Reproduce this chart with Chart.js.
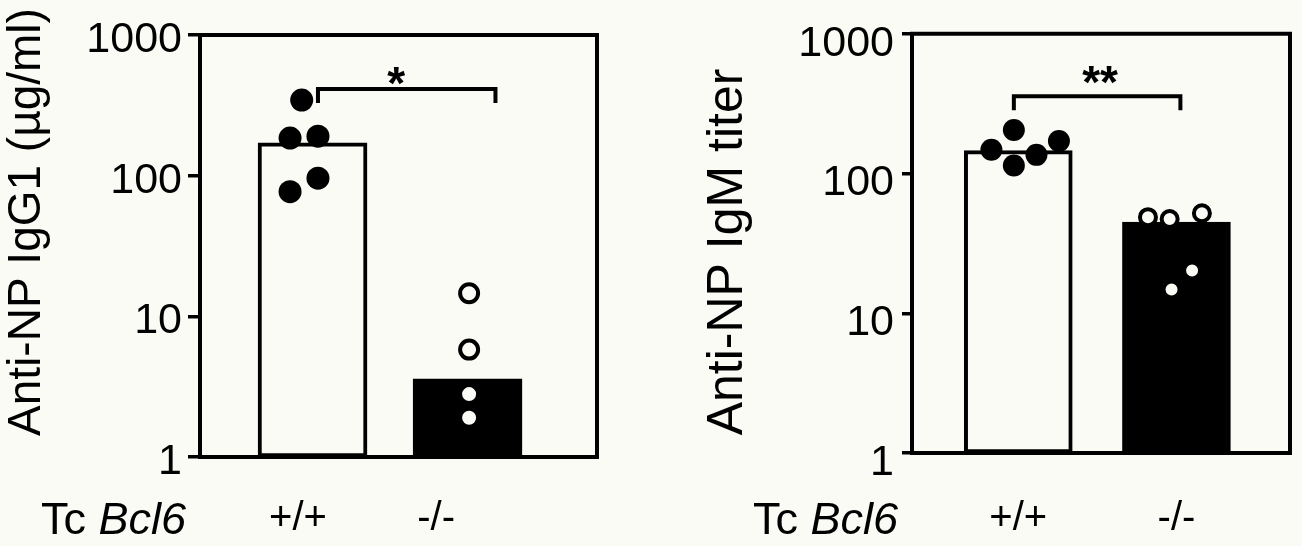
<!DOCTYPE html>
<html>
<head>
<meta charset="utf-8">
<script src="https://cdn.jsdelivr.net/npm/chart.js@4.4.1/dist/chart.umd.min.js"></script>
<style>
  html, body { margin: 0; padding: 0; background: #fbfbf6; }
  .panel { position: absolute; top: 0; width: 651px; height: 546px; }
</style>
</head>
<body>
<div class="panel" style="left:0"><canvas id="igg1" width="651" height="546"></canvas></div>
<div class="panel" style="left:651px"><canvas id="igm" width="651" height="546"></canvas></div>
<script>
// shared
const groups = ['+/+', '-/-']
const yTicks = [1, 10, 100, 1000]

// Anti-NP IgG1 (ug/ml)
const igg1Means = [171, 3.6]
const igg1Wt = [345, 185, 191, 96, 77]
const igg1WtJitter = [-0.07, -0.145, 0.035, 0.035, -0.145]
const igg1Ko = [14.6, 5.8, 2.8, 1.9]
const igg1KoJitter = [0.01, 0.01, 0.01, 0.01]
const igg1BracketX = [0.035, 1.18]
const igg1BracketY = [328, 413]

// Anti-NP IgM titer
const igmMeans = [146, 45]
const igmWt = [205, 148, 136, 171, 114]
const igmWtJitter = [-0.028, -0.17, 0.115, 0.257, -0.028]
const igmKo = [48.7, 47.2, 52, 20.2, 14.8]
const igmKoJitter = [-0.18, -0.043, 0.161, 0.099, -0.031]
const igmBracketX = [-0.028, 1.025]
const igmBracketY = [284, 357]

const BG = '#fbfbf6'
const FONT = '"Liberation Sans", Arial, sans-serif'

const decor = {
  id: 'decor',
  afterDraw (chart, args, o) {
    const { ctx, chartArea: a, scales: { x, y } } = chart
    ctx.save()
    ctx.strokeStyle = '#000'
    ctx.lineWidth = 4
    ctx.beginPath()
    ctx.moveTo(a.left - 2, a.top)
    ctx.lineTo(a.right, a.top)
    ctx.lineTo(a.right, a.bottom + 2)
    ctx.stroke()

    ctx.fillStyle = '#000'
    // significance stars
    ctx.font = 'bold 46px ' + FONT
    ctx.textAlign = 'center'
    ctx.textBaseline = 'alphabetic'
    ctx.fillText(o.stars, x.getPixelForValue(o.starX), y.getPixelForValue(o.starY) + 0.58 * 46)

    // y title
    ctx.save()
    ctx.translate(o.titleX, o.titleY)
    ctx.rotate(-Math.PI / 2)
    ctx.font = o.titleSize + 'px ' + FONT
    ctx.textBaseline = 'middle'
    ctx.fillText(o.title, 0, 0)
    ctx.restore()

    // Tc Bcl6
    ctx.textAlign = 'left'
    ctx.font = '45px ' + FONT
    const w1 = ctx.measureText('Tc ').width
    ctx.font = 'italic 45px ' + FONT
    const w2 = ctx.measureText('Bcl6').width
    const x0 = a.left - 14 - w1 - w2
    ctx.font = '45px ' + FONT
    ctx.fillText('Tc ', x0, 534)
    ctx.font = 'italic 45px ' + FONT
    ctx.fillText('Bcl6', x0 + w1, 534)
    ctx.restore()
  }
}

function makePanel (id, p) {
  const ctx = document.getElementById(id).getContext('2d')
  return new Chart(ctx, {
    type: 'bar',
    data: {
      datasets: [
        {
          type: 'scatter',
          order: 0,
          data: p.wt.map((v, i) => ({ x: p.wtJitter[i], y: v })),
          pointRadius: p.dotR,
          backgroundColor: '#000',
          borderWidth: 0
        },
        {
          type: 'scatter',
          order: 0,
          data: p.ko.map((v, i) => ({ x: 1 + p.koJitter[i], y: v })),
          pointRadius: p.openR,
          backgroundColor: BG,
          borderColor: '#000',
          borderWidth: 4
        },
        {
          type: 'line',
          order: 1,
          data: [
            { x: p.bracketX[0], y: p.bracketY[0] },
            { x: p.bracketX[0], y: p.bracketY[1] },
            { x: p.bracketX[1], y: p.bracketY[1] },
            { x: p.bracketX[1], y: p.bracketY[0] }
          ],
          borderColor: '#000',
          borderWidth: 4,
          pointRadius: 0,
          tension: 0,
          fill: false
        },
        {
          type: 'bar',
          order: 2,
          data: p.means.map((v, i) => ({ x: i, y: v })),
          backgroundColor: [BG, '#000'],
          borderColor: '#000',
          borderWidth: 4,
          borderSkipped: false,
          barThickness: p.barW
        }
      ]
    },
    options: {
      responsive: false,
      animation: false,
      events: [],
      layout: { padding: { left: 0, top: p.top, right: p.right, bottom: 0 } },
      plugins: {
        legend: { display: false },
        tooltip: { enabled: false },
        decor: p.decor
      },
      scales: {
        x: {
          type: 'linear',
          min: p.xMin,
          max: p.xMax,
          offset: false,
          grid: { display: false, drawTicks: false, offset: false },
          border: { display: true, width: 4, color: '#000' },
          afterBuildTicks: s => { s.ticks = p.xTickPos.map(v => ({ value: v })) },
          afterFit: s => { s.height = p.xAxisH },
          ticks: {
            autoSkip: false,
            maxRotation: 0,
            padding: p.xPad,
            color: '#000',
            font: { family: FONT, size: 40 },
            callback: (v, i) => groups[i]
          }
        },
        y: {
          type: 'logarithmic',
          min: 1,
          max: 1000,
          grid: { display: true, drawOnChartArea: false, drawTicks: true, tickLength: p.tickLen, lineWidth: 3.5, color: '#000' },
          border: { display: true, width: 4, color: '#000' },
          afterBuildTicks: s => { s.ticks = yTicks.map(v => ({ value: v })) },
          afterFit: s => { s.width = p.yAxisW },
          ticks: {
            padding: p.yPad,
            labelOffset: p.labelOffset,
            color: '#000',
            font: { family: FONT, size: 43 },
            callback: v => String(v)
          }
        }
      }
    },
    plugins: [decor]
  })
}

makePanel('igg1', {
  means: igg1Means, wt: igg1Wt, wtJitter: igg1WtJitter, ko: igg1Ko, koJitter: igg1KoJitter,
  bracketX: igg1BracketX, bracketY: igg1BracketY,
  dotR: 11.5, openR: 9, barW: 109,
  xMin: -0.726, xMax: 1.835, xTickPos: [-0.094, 0.797],
  top: 35, right: 54, xAxisH: 89, yAxisW: 200, xPad: 38, yPad: 6, tickLen: 12, labelOffset: 5,
  decor: { stars: '*', starX: 0.54, starY: 546, title: 'Anti-NP IgG1 (µg/ml)', titleSize: 46, titleX: 27, titleY: 222 }
})

makePanel('igm', {
  means: igmMeans, wt: igmWt, wtJitter: igmWtJitter, ko: igmKo, koJitter: igmKoJitter,
  bracketX: igmBracketX, bracketY: igmBracketY,
  dotR: 11, openR: 8, barW: 108,
  xMin: -0.672, xMax: 1.718, xTickPos: [0, 1],
  top: 30, right: 4, xAxisH: 93, yAxisW: 261, xPad: 42, yPad: 8, tickLen: 10, labelOffset: 10,
  decor: { stars: '**', starX: 0.517, starY: 537, title: 'Anti-NP IgM titer', titleSize: 50, titleX: 77, titleY: 252 }
})
</script>
</body>
</html>
